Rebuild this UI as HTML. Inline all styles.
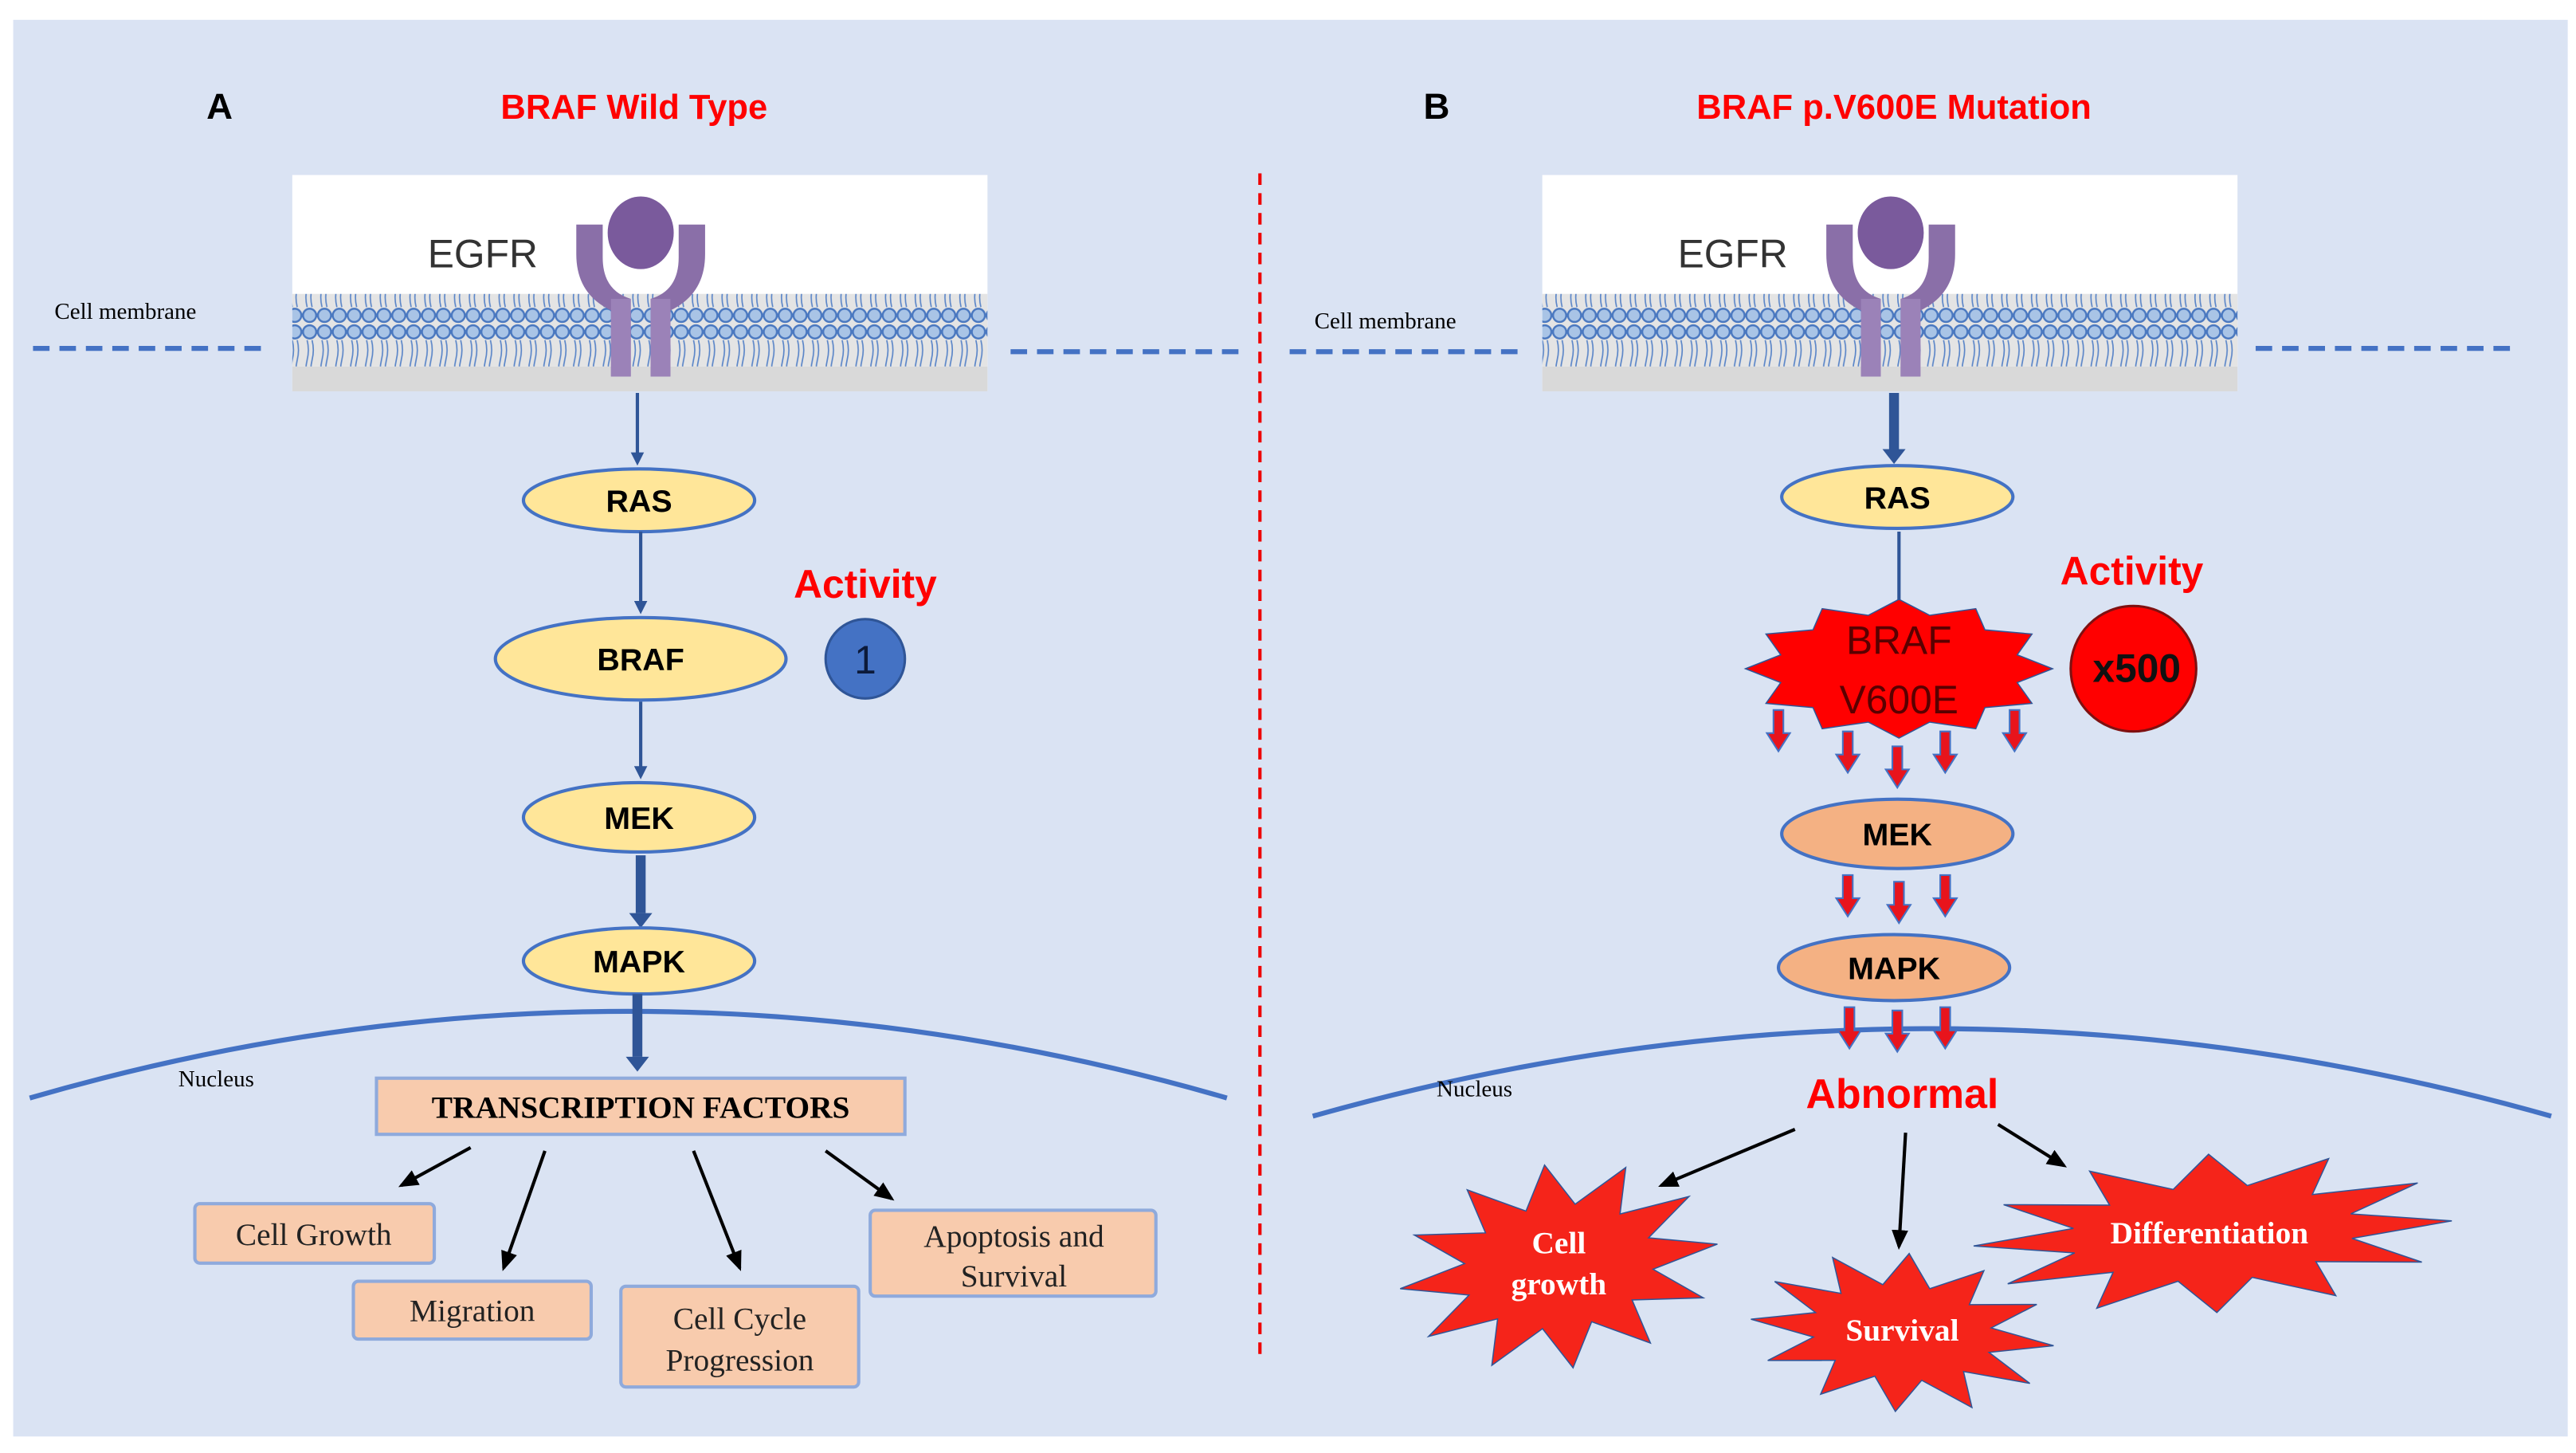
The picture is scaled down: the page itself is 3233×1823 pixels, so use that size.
<!DOCTYPE html>
<html><head><meta charset="utf-8"><style>
html,body{margin:0;padding:0;background:#fff;}
svg{display:block;}
.ser{font-family:"Liberation Serif",serif;}
.san{font-family:"Liberation Sans",sans-serif;}
</style></head><body>
<svg width="3233" height="1823" viewBox="0 0 1560 880" preserveAspectRatio="none" xmlns="http://www.w3.org/2000/svg">
<defs>
<polygon id="star" vector-effect="non-scaling-stroke" stroke-width="1.5" points="1,0 .58,.155 .866,.5 .424,.424 .5,.866 .155,.58 0,1 -.155,.58 -.5,.866 -.424,.424 -.866,.5 -.58,.155 -1,0 -.58,-.155 -.866,-.5 -.424,-.424 -.5,-.866 -.155,-.58 0,-1 .155,-.58 .5,-.866 .424,-.424 .866,-.5 .58,-.155"/>
<polygon id="star2" vector-effect="non-scaling-stroke" stroke-width="1.5" points="1,0 .77,.2 .866,.5 .56,.56 .5,.866 .2,.77 0,1 -.2,.77 -.5,.866 -.56,.56 -.866,.5 -.77,.2 -1,0 -.77,-.2 -.866,-.5 -.56,-.56 -.5,-.866 -.2,-.77 0,-1 .2,-.77 .5,-.866 .56,-.56 .866,-.5 .77,-.2"/>
<polygon id="rar" points="-3,0 3,0 3,14 7,14 0,25 -7,14 -3,14" fill="#e8141c" stroke="#4472c4" stroke-width="1"/>
<marker id="ab" markerWidth="8" markerHeight="8" refX="6" refY="4" orient="auto" markerUnits="userSpaceOnUse"><path d="M0,0 L8,4 L0,8 z" fill="#2f5597"/></marker>
<marker id="ak" markerWidth="12" markerHeight="10" refX="10" refY="5" orient="auto" markerUnits="userSpaceOnUse"><path d="M0,0 L12,5 L0,10 z" fill="#000"/></marker>
<pattern id="lip" x="177" y="178" width="9" height="44" patternUnits="userSpaceOnUse">
<rect width="9" height="44" fill="#e4e4e4"/>
<circle cx="4.5" cy="5" r="4" fill="#a9c4e6" stroke="#4a78c0" stroke-width="1.2"/>
<circle cx="4.5" cy="39" r="4" fill="#a9c4e6" stroke="#4a78c0" stroke-width="1.2"/>
<path d="M3,10 q1.5,6 0,12 M6,10 q1.5,6 0,12 M3,22 q-1.5,6 0,12 M6,22 q-1.5,6 0,12" stroke="#5a85c8" stroke-width=".8" fill="none"/>
</pattern>
<g id="mem">
<rect x="0" y="0" width="421" height="131" fill="#fff"/>
<rect x="0" y="72" width="421" height="44" fill="url(#lip)"/>
<rect x="0" y="116" width="421" height="15" fill="#d9d9d9"/>
<text x="82" y="56" class="san" font-size="24" fill="#333">EGFR</text>
<path d="M172,30 L188,30 L188,50 Q188,70 205,75 L205,122 L193,122 L193,82 Q172,72 172,48 Z" fill="#8a6fa8"/>
<path d="M250,30 L234,30 L234,50 Q234,70 217,75 L217,122 L229,122 L229,82 Q250,72 250,48 Z" fill="#8a6fa8"/>
<rect x="193" y="75" width="12" height="47" fill="#9b82b8"/>
<rect x="217" y="75" width="12" height="47" fill="#9b82b8"/>
<ellipse cx="211" cy="35" rx="21" ry="23" fill="#7a5a9c" stroke="#fff" stroke-width="2"/>
</g>
</defs>
<rect x="0" y="0" width="1560" height="880" fill="#fff"/>
<rect x="8" y="12" width="1547" height="858" fill="#dae3f3"/>

<!-- Panel A -->
<text x="133" y="72" class="san" font-size="22" font-weight="bold" text-anchor="middle">A</text>
<text x="384" y="72" class="san" font-size="21" font-weight="bold" fill="#ff0000" text-anchor="middle">BRAF Wild Type</text>
<use href="#mem" x="177" y="106"/>
<text x="33" y="193" class="ser" font-size="14">Cell membrane</text>
<line x1="20" y1="211" x2="163" y2="211" stroke="#4472c4" stroke-width="3" stroke-dasharray="10,6"/>
<line x1="612" y1="213" x2="755" y2="213" stroke="#4472c4" stroke-width="3" stroke-dasharray="10,6"/>
<line x1="763" y1="105" x2="763" y2="820" stroke="#e00" stroke-width="2" stroke-dasharray="7,5"/>

<line x1="386" y1="238" x2="386" y2="280" stroke="#2f5597" stroke-width="2" marker-end="url(#ab)"/>
<ellipse cx="387" cy="303" rx="70" ry="19" fill="#ffe699" stroke="#4472c4" stroke-width="2"/>
<text x="387" y="310" class="san" font-size="19" font-weight="bold" text-anchor="middle">RAS</text>
<line x1="388" y1="322" x2="388" y2="370" stroke="#2f5597" stroke-width="2" marker-end="url(#ab)"/>
<ellipse cx="388" cy="399" rx="88" ry="25" fill="#ffe699" stroke="#4472c4" stroke-width="2"/>
<text x="388" y="406" class="san" font-size="19" font-weight="bold" text-anchor="middle">BRAF</text>
<text x="524" y="362" class="san" font-size="24" font-weight="bold" fill="#ff0000" text-anchor="middle">Activity</text>
<circle cx="524" cy="399" r="24" fill="#4472c4" stroke="#2f5597" stroke-width="1.5"/>
<text x="524" y="408" class="san" font-size="24" fill="#0c1a3a" text-anchor="middle">1</text>
<line x1="388" y1="425" x2="388" y2="470" stroke="#2f5597" stroke-width="2" marker-end="url(#ab)"/>
<ellipse cx="387" cy="495" rx="70" ry="21" fill="#ffe699" stroke="#4472c4" stroke-width="2"/>
<text x="387" y="502" class="san" font-size="19" font-weight="bold" text-anchor="middle">MEK</text>
<line x1="388" y1="518" x2="388" y2="553" stroke="#2f5597" stroke-width="6"/>
<path d="M381,553 L395,553 L388,562 Z" fill="#2f5597"/>
<ellipse cx="387" cy="582" rx="70" ry="20" fill="#ffe699" stroke="#4472c4" stroke-width="2"/>
<text x="387" y="589" class="san" font-size="19" font-weight="bold" text-anchor="middle">MAPK</text>
<path d="M18,665 Q380,560 743,665" fill="none" stroke="#4472c4" stroke-width="3"/>
<line x1="386" y1="602" x2="386" y2="640" stroke="#2f5597" stroke-width="6"/>
<path d="M379,640 L393,640 L386,649 Z" fill="#2f5597"/>
<text x="108" y="658" class="ser" font-size="14">Nucleus</text>
<rect x="228" y="653" width="320" height="34" fill="#f8cbad" stroke="#8faadc" stroke-width="2"/>
<text x="388" y="677" class="ser" font-size="19" font-weight="bold" text-anchor="middle">TRANSCRIPTION FACTORS</text>
<g stroke="#000" stroke-width="2" marker-end="url(#ak)">
<line x1="285" y1="695" x2="243" y2="718"/>
<line x1="330" y1="697" x2="305" y2="768"/>
<line x1="420" y1="697" x2="448" y2="768"/>
<line x1="500" y1="697" x2="540" y2="726"/>
</g>
<g fill="#f8cbad" stroke="#8faadc" stroke-width="2">
<rect x="118" y="729" width="145" height="36" rx="3"/>
<rect x="214" y="776" width="144" height="35" rx="3"/>
<rect x="376" y="779" width="144" height="61" rx="3"/>
<rect x="527" y="733" width="173" height="52" rx="3"/>
</g>
<g class="ser" font-size="19" fill="#222" text-anchor="middle">
<text x="190" y="754">Cell Growth</text>
<text x="286" y="800">Migration</text>
<text x="448" y="805">Cell Cycle</text>
<text x="448" y="830">Progression</text>
<text x="614" y="755">Apoptosis and</text>
<text x="614" y="779">Survival</text>
</g>

<!-- Panel B -->
<text x="870" y="72" class="san" font-size="22" font-weight="bold" text-anchor="middle">B</text>
<text x="1147" y="72" class="san" font-size="21" font-weight="bold" fill="#ff0000" text-anchor="middle">BRAF p.V600E Mutation</text>
<use href="#mem" x="934" y="106"/>
<text x="796" y="199" class="ser" font-size="14">Cell membrane</text>
<line x1="781" y1="213" x2="920" y2="213" stroke="#4472c4" stroke-width="3" stroke-dasharray="10,6"/>
<line x1="1366" y1="211" x2="1525" y2="211" stroke="#4472c4" stroke-width="3" stroke-dasharray="10,6"/>
<line x1="1147" y1="238" x2="1147" y2="272" stroke="#2f5597" stroke-width="6"/>
<path d="M1140,272 L1154,272 L1147,281 Z" fill="#2f5597"/>
<ellipse cx="1149" cy="301" rx="70" ry="19" fill="#ffe699" stroke="#4472c4" stroke-width="2"/>
<text x="1149" y="308" class="san" font-size="19" font-weight="bold" text-anchor="middle">RAS</text>
<line x1="1150" y1="322" x2="1150" y2="368" stroke="#2f5597" stroke-width="2"/>
<use href="#star2" transform="translate(1150,405) scale(93,42)" fill="#ff0000" stroke="#2f5597"/>
<text x="1150" y="396" class="san" font-size="24" fill="#5a0000" text-anchor="middle">BRAF</text>
<text x="1150" y="432" class="san" font-size="24" fill="#5a0000" text-anchor="middle">V600E</text>
<text x="1291" y="354" class="san" font-size="24" font-weight="bold" fill="#ff0000" text-anchor="middle">Activity</text>
<circle cx="1292" cy="405" r="38" fill="#ff0000" stroke="#7f1010" stroke-width="1.5"/>
<text x="1294" y="413" class="san" font-size="24" font-weight="bold" fill="#111" text-anchor="middle">x500</text>
<use href="#rar" x="1077" y="430"/>
<use href="#rar" x="1119" y="443"/>
<use href="#rar" x="1149" y="452"/>
<use href="#rar" x="1178" y="443"/>
<use href="#rar" x="1220" y="430"/>
<ellipse cx="1149" cy="505" rx="70" ry="21" fill="#f4b183" stroke="#4472c4" stroke-width="2"/>
<text x="1149" y="512" class="san" font-size="19" font-weight="bold" text-anchor="middle">MEK</text>
<use href="#rar" x="1119" y="530"/>
<use href="#rar" x="1150" y="534"/>
<use href="#rar" x="1178" y="530"/>
<ellipse cx="1147" cy="586" rx="70" ry="20" fill="#f4b183" stroke="#4472c4" stroke-width="2"/>
<text x="1147" y="593" class="san" font-size="19" font-weight="bold" text-anchor="middle">MAPK</text>
<path d="M795,676 Q1170,570 1545,676" fill="none" stroke="#4472c4" stroke-width="3"/>
<use href="#rar" x="1120" y="610"/>
<use href="#rar" x="1149" y="612"/>
<use href="#rar" x="1178" y="610"/>
<text x="870" y="664" class="ser" font-size="14">Nucleus</text>
<text x="1152" y="671" class="san" font-size="25" font-weight="bold" fill="#ff0000" text-anchor="middle">Abnormal</text>
<g stroke="#000" stroke-width="2" marker-end="url(#ak)">
<line x1="1087" y1="684" x2="1006" y2="718"/>
<line x1="1154" y1="686" x2="1150" y2="755"/>
<line x1="1210" y1="681" x2="1250" y2="706"/>
</g>
<use href="#star" transform="translate(944,767) rotate(-8) scale(97,62)" fill="#f5241a" stroke="#2f5597"/>
<use href="#star" transform="translate(1152,807) rotate(5) scale(92,48)" fill="#f5241a" stroke="#2f5597"/>
<use href="#star" transform="translate(1340,747) rotate(-3) scale(145,48)" fill="#f5241a" stroke="#2f5597"/>
<g class="ser" font-size="19" font-weight="bold" fill="#fff" text-anchor="middle">
<text x="944" y="759">Cell</text>
<text x="944" y="784">growth</text>
<text x="1152" y="812">Survival</text>
<text x="1338" y="753">Differentiation</text>
</g>
</svg>
</body></html>
